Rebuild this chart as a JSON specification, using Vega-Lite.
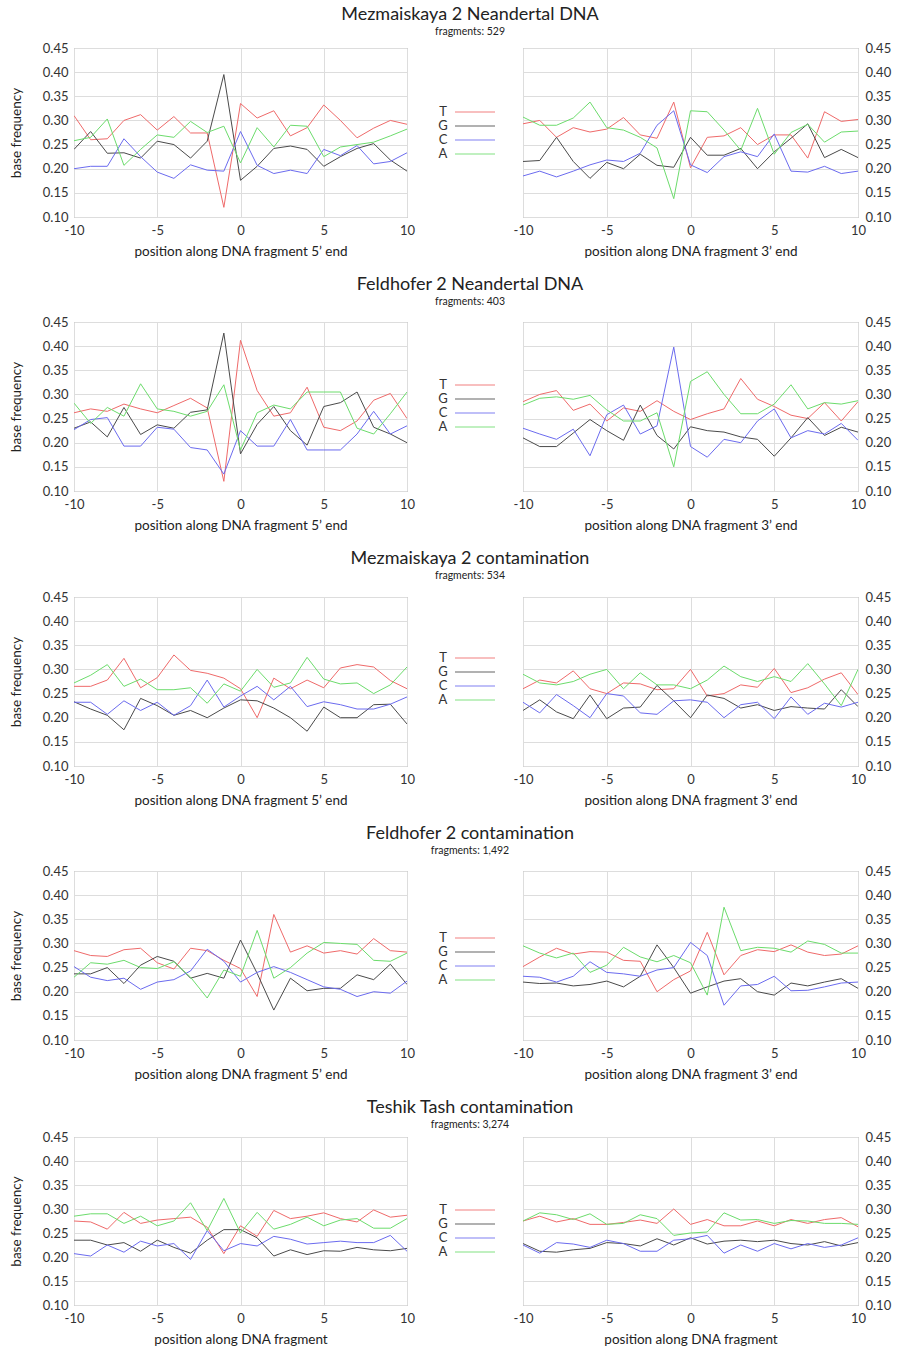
{
"$schema": "https://vega.github.io/schema/vega-lite/v6.json",
"padding": {"left": 8, "top": 6, "right": 0, "bottom": 0},
"background": "white",
"datasets": {
"legend": [{"base":"T"},{"base":"G"},{"base":"C"},{"base":"A"}],
"p1L": [
{"pos":-10,"base":"T","freq":0.31},{"pos":-9,"base":"T","freq":0.26},{"pos":-8,"base":"T","freq":0.262},{"pos":-7,"base":"T","freq":0.30},{"pos":-6,"base":"T","freq":0.312},{"pos":-5,"base":"T","freq":0.28},{"pos":-4,"base":"T","freq":0.308},{"pos":-3,"base":"T","freq":0.274},{"pos":-2,"base":"T","freq":0.274},{"pos":-1,"base":"T","freq":0.12},{"pos":0,"base":"T","freq":0.335},{"pos":1,"base":"T","freq":0.305},{"pos":2,"base":"T","freq":0.32},{"pos":3,"base":"T","freq":0.268},{"pos":4,"base":"T","freq":0.285},{"pos":5,"base":"T","freq":0.332},{"pos":6,"base":"T","freq":0.30},{"pos":7,"base":"T","freq":0.264},{"pos":8,"base":"T","freq":0.284},{"pos":9,"base":"T","freq":0.30},{"pos":10,"base":"T","freq":0.292},
{"pos":-10,"base":"G","freq":0.24},{"pos":-9,"base":"G","freq":0.277},{"pos":-8,"base":"G","freq":0.232},{"pos":-7,"base":"G","freq":0.233},{"pos":-6,"base":"G","freq":0.222},{"pos":-5,"base":"G","freq":0.257},{"pos":-4,"base":"G","freq":0.25},{"pos":-3,"base":"G","freq":0.222},{"pos":-2,"base":"G","freq":0.257},{"pos":-1,"base":"G","freq":0.395},{"pos":0,"base":"G","freq":0.176},{"pos":1,"base":"G","freq":0.205},{"pos":2,"base":"G","freq":0.242},{"pos":3,"base":"G","freq":0.247},{"pos":4,"base":"G","freq":0.24},{"pos":5,"base":"G","freq":0.205},{"pos":6,"base":"G","freq":0.225},{"pos":7,"base":"G","freq":0.242},{"pos":8,"base":"G","freq":0.252},{"pos":9,"base":"G","freq":0.218},{"pos":10,"base":"G","freq":0.195},
{"pos":-10,"base":"C","freq":0.2},{"pos":-9,"base":"C","freq":0.205},{"pos":-8,"base":"C","freq":0.205},{"pos":-7,"base":"C","freq":0.262},{"pos":-6,"base":"C","freq":0.225},{"pos":-5,"base":"C","freq":0.193},{"pos":-4,"base":"C","freq":0.18},{"pos":-3,"base":"C","freq":0.208},{"pos":-2,"base":"C","freq":0.197},{"pos":-1,"base":"C","freq":0.195},{"pos":0,"base":"C","freq":0.277},{"pos":1,"base":"C","freq":0.207},{"pos":2,"base":"C","freq":0.19},{"pos":3,"base":"C","freq":0.197},{"pos":4,"base":"C","freq":0.19},{"pos":5,"base":"C","freq":0.24},{"pos":6,"base":"C","freq":0.227},{"pos":7,"base":"C","freq":0.248},{"pos":8,"base":"C","freq":0.21},{"pos":9,"base":"C","freq":0.215},{"pos":10,"base":"C","freq":0.233},
{"pos":-10,"base":"A","freq":0.258},{"pos":-9,"base":"A","freq":0.265},{"pos":-8,"base":"A","freq":0.303},{"pos":-7,"base":"A","freq":0.207},{"pos":-6,"base":"A","freq":0.24},{"pos":-5,"base":"A","freq":0.27},{"pos":-4,"base":"A","freq":0.265},{"pos":-3,"base":"A","freq":0.298},{"pos":-2,"base":"A","freq":0.275},{"pos":-1,"base":"A","freq":0.288},{"pos":0,"base":"A","freq":0.212},{"pos":1,"base":"A","freq":0.285},{"pos":2,"base":"A","freq":0.245},{"pos":3,"base":"A","freq":0.29},{"pos":4,"base":"A","freq":0.288},{"pos":5,"base":"A","freq":0.225},{"pos":6,"base":"A","freq":0.245},{"pos":7,"base":"A","freq":0.25},{"pos":8,"base":"A","freq":0.255},{"pos":9,"base":"A","freq":0.268},{"pos":10,"base":"A","freq":0.282}
],
"p1R": [
{"pos":-10,"base":"T","freq":0.293},{"pos":-9,"base":"T","freq":0.30},{"pos":-8,"base":"T","freq":0.265},{"pos":-7,"base":"T","freq":0.285},{"pos":-6,"base":"T","freq":0.276},{"pos":-5,"base":"T","freq":0.282},{"pos":-4,"base":"T","freq":0.306},{"pos":-3,"base":"T","freq":0.27},{"pos":-2,"base":"T","freq":0.263},{"pos":-1,"base":"T","freq":0.338},{"pos":0,"base":"T","freq":0.202},{"pos":1,"base":"T","freq":0.265},{"pos":2,"base":"T","freq":0.268},{"pos":3,"base":"T","freq":0.285},{"pos":4,"base":"T","freq":0.25},{"pos":5,"base":"T","freq":0.27},{"pos":6,"base":"T","freq":0.27},{"pos":7,"base":"T","freq":0.222},{"pos":8,"base":"T","freq":0.318},{"pos":9,"base":"T","freq":0.298},{"pos":10,"base":"T","freq":0.302},
{"pos":-10,"base":"G","freq":0.215},{"pos":-9,"base":"G","freq":0.217},{"pos":-8,"base":"G","freq":0.265},{"pos":-7,"base":"G","freq":0.215},{"pos":-6,"base":"G","freq":0.18},{"pos":-5,"base":"G","freq":0.213},{"pos":-4,"base":"G","freq":0.2},{"pos":-3,"base":"G","freq":0.23},{"pos":-2,"base":"G","freq":0.207},{"pos":-1,"base":"G","freq":0.203},{"pos":0,"base":"G","freq":0.265},{"pos":1,"base":"G","freq":0.228},{"pos":2,"base":"G","freq":0.228},{"pos":3,"base":"G","freq":0.242},{"pos":4,"base":"G","freq":0.2},{"pos":5,"base":"G","freq":0.235},{"pos":6,"base":"G","freq":0.263},{"pos":7,"base":"G","freq":0.293},{"pos":8,"base":"G","freq":0.223},{"pos":9,"base":"G","freq":0.24},{"pos":10,"base":"G","freq":0.223},
{"pos":-10,"base":"C","freq":0.185},{"pos":-9,"base":"C","freq":0.195},{"pos":-8,"base":"C","freq":0.183},{"pos":-7,"base":"C","freq":0.195},{"pos":-6,"base":"C","freq":0.208},{"pos":-5,"base":"C","freq":0.218},{"pos":-4,"base":"C","freq":0.215},{"pos":-3,"base":"C","freq":0.232},{"pos":-2,"base":"C","freq":0.29},{"pos":-1,"base":"C","freq":0.32},{"pos":0,"base":"C","freq":0.208},{"pos":1,"base":"C","freq":0.192},{"pos":2,"base":"C","freq":0.225},{"pos":3,"base":"C","freq":0.235},{"pos":4,"base":"C","freq":0.225},{"pos":5,"base":"C","freq":0.272},{"pos":6,"base":"C","freq":0.195},{"pos":7,"base":"C","freq":0.193},{"pos":8,"base":"C","freq":0.205},{"pos":9,"base":"C","freq":0.19},{"pos":10,"base":"C","freq":0.195},
{"pos":-10,"base":"A","freq":0.307},{"pos":-9,"base":"A","freq":0.29},{"pos":-8,"base":"A","freq":0.29},{"pos":-7,"base":"A","freq":0.305},{"pos":-6,"base":"A","freq":0.338},{"pos":-5,"base":"A","freq":0.285},{"pos":-4,"base":"A","freq":0.28},{"pos":-3,"base":"A","freq":0.265},{"pos":-2,"base":"A","freq":0.243},{"pos":-1,"base":"A","freq":0.138},{"pos":0,"base":"A","freq":0.32},{"pos":1,"base":"A","freq":0.318},{"pos":2,"base":"A","freq":0.28},{"pos":3,"base":"A","freq":0.238},{"pos":4,"base":"A","freq":0.325},{"pos":5,"base":"A","freq":0.23},{"pos":6,"base":"A","freq":0.275},{"pos":7,"base":"A","freq":0.292},{"pos":8,"base":"A","freq":0.255},{"pos":9,"base":"A","freq":0.276},{"pos":10,"base":"A","freq":0.278}
],
"p2L": [
{"pos":-10,"base":"T","freq":0.262},{"pos":-9,"base":"T","freq":0.27},{"pos":-8,"base":"T","freq":0.265},{"pos":-7,"base":"T","freq":0.28},{"pos":-6,"base":"T","freq":0.27},{"pos":-5,"base":"T","freq":0.262},{"pos":-4,"base":"T","freq":0.277},{"pos":-3,"base":"T","freq":0.292},{"pos":-2,"base":"T","freq":0.272},{"pos":-1,"base":"T","freq":0.12},{"pos":0,"base":"T","freq":0.412},{"pos":1,"base":"T","freq":0.308},{"pos":2,"base":"T","freq":0.255},{"pos":3,"base":"T","freq":0.262},{"pos":4,"base":"T","freq":0.315},{"pos":5,"base":"T","freq":0.232},{"pos":6,"base":"T","freq":0.225},{"pos":7,"base":"T","freq":0.245},{"pos":8,"base":"T","freq":0.288},{"pos":9,"base":"T","freq":0.302},{"pos":10,"base":"T","freq":0.25},
{"pos":-10,"base":"G","freq":0.23},{"pos":-9,"base":"G","freq":0.243},{"pos":-8,"base":"G","freq":0.212},{"pos":-7,"base":"G","freq":0.273},{"pos":-6,"base":"G","freq":0.217},{"pos":-5,"base":"G","freq":0.237},{"pos":-4,"base":"G","freq":0.23},{"pos":-3,"base":"G","freq":0.263},{"pos":-2,"base":"G","freq":0.268},{"pos":-1,"base":"G","freq":0.427},{"pos":0,"base":"G","freq":0.177},{"pos":1,"base":"G","freq":0.238},{"pos":2,"base":"G","freq":0.275},{"pos":3,"base":"G","freq":0.225},{"pos":4,"base":"G","freq":0.195},{"pos":5,"base":"G","freq":0.275},{"pos":6,"base":"G","freq":0.283},{"pos":7,"base":"G","freq":0.305},{"pos":8,"base":"G","freq":0.232},{"pos":9,"base":"G","freq":0.218},{"pos":10,"base":"G","freq":0.2},
{"pos":-10,"base":"C","freq":0.227},{"pos":-9,"base":"C","freq":0.248},{"pos":-8,"base":"C","freq":0.252},{"pos":-7,"base":"C","freq":0.193},{"pos":-6,"base":"C","freq":0.193},{"pos":-5,"base":"C","freq":0.232},{"pos":-4,"base":"C","freq":0.228},{"pos":-3,"base":"C","freq":0.19},{"pos":-2,"base":"C","freq":0.185},{"pos":-1,"base":"C","freq":0.135},{"pos":0,"base":"C","freq":0.225},{"pos":1,"base":"C","freq":0.193},{"pos":2,"base":"C","freq":0.193},{"pos":3,"base":"C","freq":0.248},{"pos":4,"base":"C","freq":0.185},{"pos":5,"base":"C","freq":0.185},{"pos":6,"base":"C","freq":0.185},{"pos":7,"base":"C","freq":0.218},{"pos":8,"base":"C","freq":0.265},{"pos":9,"base":"C","freq":0.218},{"pos":10,"base":"C","freq":0.235},
{"pos":-10,"base":"A","freq":0.282},{"pos":-9,"base":"A","freq":0.24},{"pos":-8,"base":"A","freq":0.273},{"pos":-7,"base":"A","freq":0.255},{"pos":-6,"base":"A","freq":0.322},{"pos":-5,"base":"A","freq":0.27},{"pos":-4,"base":"A","freq":0.265},{"pos":-3,"base":"A","freq":0.255},{"pos":-2,"base":"A","freq":0.265},{"pos":-1,"base":"A","freq":0.32},{"pos":0,"base":"A","freq":0.185},{"pos":1,"base":"A","freq":0.262},{"pos":2,"base":"A","freq":0.278},{"pos":3,"base":"A","freq":0.27},{"pos":4,"base":"A","freq":0.305},{"pos":5,"base":"A","freq":0.305},{"pos":6,"base":"A","freq":0.305},{"pos":7,"base":"A","freq":0.23},{"pos":8,"base":"A","freq":0.218},{"pos":9,"base":"A","freq":0.26},{"pos":10,"base":"A","freq":0.305}
],
"p2R": [
{"pos":-10,"base":"T","freq":0.285},{"pos":-9,"base":"T","freq":0.3},{"pos":-8,"base":"T","freq":0.308},{"pos":-7,"base":"T","freq":0.267},{"pos":-6,"base":"T","freq":0.28},{"pos":-5,"base":"T","freq":0.245},{"pos":-4,"base":"T","freq":0.272},{"pos":-3,"base":"T","freq":0.265},{"pos":-2,"base":"T","freq":0.287},{"pos":-1,"base":"T","freq":0.265},{"pos":0,"base":"T","freq":0.248},{"pos":1,"base":"T","freq":0.26},{"pos":2,"base":"T","freq":0.27},{"pos":3,"base":"T","freq":0.333},{"pos":4,"base":"T","freq":0.29},{"pos":5,"base":"T","freq":0.275},{"pos":6,"base":"T","freq":0.257},{"pos":7,"base":"T","freq":0.25},{"pos":8,"base":"T","freq":0.283},{"pos":9,"base":"T","freq":0.245},{"pos":10,"base":"T","freq":0.285},
{"pos":-10,"base":"G","freq":0.21},{"pos":-9,"base":"G","freq":0.192},{"pos":-8,"base":"G","freq":0.192},{"pos":-7,"base":"G","freq":0.22},{"pos":-6,"base":"G","freq":0.248},{"pos":-5,"base":"G","freq":0.225},{"pos":-4,"base":"G","freq":0.205},{"pos":-3,"base":"G","freq":0.278},{"pos":-2,"base":"G","freq":0.215},{"pos":-1,"base":"G","freq":0.187},{"pos":0,"base":"G","freq":0.233},{"pos":1,"base":"G","freq":0.225},{"pos":2,"base":"G","freq":0.222},{"pos":3,"base":"G","freq":0.212},{"pos":4,"base":"G","freq":0.207},{"pos":5,"base":"G","freq":0.172},{"pos":6,"base":"G","freq":0.21},{"pos":7,"base":"G","freq":0.252},{"pos":8,"base":"G","freq":0.215},{"pos":9,"base":"G","freq":0.232},{"pos":10,"base":"G","freq":0.222},
{"pos":-10,"base":"C","freq":0.23},{"pos":-9,"base":"C","freq":0.218},{"pos":-8,"base":"C","freq":0.207},{"pos":-7,"base":"C","freq":0.228},{"pos":-6,"base":"C","freq":0.173},{"pos":-5,"base":"C","freq":0.258},{"pos":-4,"base":"C","freq":0.278},{"pos":-3,"base":"C","freq":0.218},{"pos":-2,"base":"C","freq":0.235},{"pos":-1,"base":"C","freq":0.398},{"pos":0,"base":"C","freq":0.192},{"pos":1,"base":"C","freq":0.17},{"pos":2,"base":"C","freq":0.207},{"pos":3,"base":"C","freq":0.2},{"pos":4,"base":"C","freq":0.245},{"pos":5,"base":"C","freq":0.27},{"pos":6,"base":"C","freq":0.21},{"pos":7,"base":"C","freq":0.225},{"pos":8,"base":"C","freq":0.218},{"pos":9,"base":"C","freq":0.24},{"pos":10,"base":"C","freq":0.205},
{"pos":-10,"base":"A","freq":0.278},{"pos":-9,"base":"A","freq":0.292},{"pos":-8,"base":"A","freq":0.295},{"pos":-7,"base":"A","freq":0.29},{"pos":-6,"base":"A","freq":0.298},{"pos":-5,"base":"A","freq":0.268},{"pos":-4,"base":"A","freq":0.245},{"pos":-3,"base":"A","freq":0.245},{"pos":-2,"base":"A","freq":0.262},{"pos":-1,"base":"A","freq":0.15},{"pos":0,"base":"A","freq":0.327},{"pos":1,"base":"A","freq":0.347},{"pos":2,"base":"A","freq":0.3},{"pos":3,"base":"A","freq":0.26},{"pos":4,"base":"A","freq":0.26},{"pos":5,"base":"A","freq":0.28},{"pos":6,"base":"A","freq":0.32},{"pos":7,"base":"A","freq":0.27},{"pos":8,"base":"A","freq":0.283},{"pos":9,"base":"A","freq":0.28},{"pos":10,"base":"A","freq":0.287}
],
"p3L": [
{"pos":-10,"base":"T","freq":0.265},{"pos":-9,"base":"T","freq":0.265},{"pos":-8,"base":"T","freq":0.278},{"pos":-7,"base":"T","freq":0.323},{"pos":-6,"base":"T","freq":0.262},{"pos":-5,"base":"T","freq":0.283},{"pos":-4,"base":"T","freq":0.33},{"pos":-3,"base":"T","freq":0.298},{"pos":-2,"base":"T","freq":0.292},{"pos":-1,"base":"T","freq":0.282},{"pos":0,"base":"T","freq":0.26},{"pos":1,"base":"T","freq":0.2},{"pos":2,"base":"T","freq":0.282},{"pos":3,"base":"T","freq":0.26},{"pos":4,"base":"T","freq":0.278},{"pos":5,"base":"T","freq":0.262},{"pos":6,"base":"T","freq":0.303},{"pos":7,"base":"T","freq":0.31},{"pos":8,"base":"T","freq":0.305},{"pos":9,"base":"T","freq":0.277},{"pos":10,"base":"T","freq":0.26},
{"pos":-10,"base":"G","freq":0.233},{"pos":-9,"base":"G","freq":0.218},{"pos":-8,"base":"G","freq":0.205},{"pos":-7,"base":"G","freq":0.175},{"pos":-6,"base":"G","freq":0.24},{"pos":-5,"base":"G","freq":0.225},{"pos":-4,"base":"G","freq":0.205},{"pos":-3,"base":"G","freq":0.215},{"pos":-2,"base":"G","freq":0.2},{"pos":-1,"base":"G","freq":0.22},{"pos":0,"base":"G","freq":0.237},{"pos":1,"base":"G","freq":0.235},{"pos":2,"base":"G","freq":0.22},{"pos":3,"base":"G","freq":0.2},{"pos":4,"base":"G","freq":0.172},{"pos":5,"base":"G","freq":0.222},{"pos":6,"base":"G","freq":0.2},{"pos":7,"base":"G","freq":0.2},{"pos":8,"base":"G","freq":0.227},{"pos":9,"base":"G","freq":0.228},{"pos":10,"base":"G","freq":0.187},
{"pos":-10,"base":"C","freq":0.232},{"pos":-9,"base":"C","freq":0.232},{"pos":-8,"base":"C","freq":0.207},{"pos":-7,"base":"C","freq":0.235},{"pos":-6,"base":"C","freq":0.215},{"pos":-5,"base":"C","freq":0.232},{"pos":-4,"base":"C","freq":0.205},{"pos":-3,"base":"C","freq":0.225},{"pos":-2,"base":"C","freq":0.278},{"pos":-1,"base":"C","freq":0.222},{"pos":0,"base":"C","freq":0.245},{"pos":1,"base":"C","freq":0.265},{"pos":2,"base":"C","freq":0.237},{"pos":3,"base":"C","freq":0.265},{"pos":4,"base":"C","freq":0.223},{"pos":5,"base":"C","freq":0.233},{"pos":6,"base":"C","freq":0.227},{"pos":7,"base":"C","freq":0.218},{"pos":8,"base":"C","freq":0.218},{"pos":9,"base":"C","freq":0.228},{"pos":10,"base":"C","freq":0.243},
{"pos":-10,"base":"A","freq":0.272},{"pos":-9,"base":"A","freq":0.288},{"pos":-8,"base":"A","freq":0.31},{"pos":-7,"base":"A","freq":0.265},{"pos":-6,"base":"A","freq":0.28},{"pos":-5,"base":"A","freq":0.258},{"pos":-4,"base":"A","freq":0.258},{"pos":-3,"base":"A","freq":0.262},{"pos":-2,"base":"A","freq":0.23},{"pos":-1,"base":"A","freq":0.27},{"pos":0,"base":"A","freq":0.255},{"pos":1,"base":"A","freq":0.3},{"pos":2,"base":"A","freq":0.263},{"pos":3,"base":"A","freq":0.272},{"pos":4,"base":"A","freq":0.325},{"pos":5,"base":"A","freq":0.28},{"pos":6,"base":"A","freq":0.27},{"pos":7,"base":"A","freq":0.272},{"pos":8,"base":"A","freq":0.25},{"pos":9,"base":"A","freq":0.268},{"pos":10,"base":"A","freq":0.305}
],
"p3R": [
{"pos":-10,"base":"T","freq":0.26},{"pos":-9,"base":"T","freq":0.278},{"pos":-8,"base":"T","freq":0.272},{"pos":-7,"base":"T","freq":0.297},{"pos":-6,"base":"T","freq":0.26},{"pos":-5,"base":"T","freq":0.25},{"pos":-4,"base":"T","freq":0.272},{"pos":-3,"base":"T","freq":0.27},{"pos":-2,"base":"T","freq":0.258},{"pos":-1,"base":"T","freq":0.26},{"pos":0,"base":"T","freq":0.3},{"pos":1,"base":"T","freq":0.245},{"pos":2,"base":"T","freq":0.25},{"pos":3,"base":"T","freq":0.268},{"pos":4,"base":"T","freq":0.263},{"pos":5,"base":"T","freq":0.302},{"pos":6,"base":"T","freq":0.252},{"pos":7,"base":"T","freq":0.262},{"pos":8,"base":"T","freq":0.28},{"pos":9,"base":"T","freq":0.293},{"pos":10,"base":"T","freq":0.248},
{"pos":-10,"base":"G","freq":0.215},{"pos":-9,"base":"G","freq":0.237},{"pos":-8,"base":"G","freq":0.212},{"pos":-7,"base":"G","freq":0.198},{"pos":-6,"base":"G","freq":0.247},{"pos":-5,"base":"G","freq":0.198},{"pos":-4,"base":"G","freq":0.22},{"pos":-3,"base":"G","freq":0.222},{"pos":-2,"base":"G","freq":0.267},{"pos":-1,"base":"G","freq":0.235},{"pos":0,"base":"G","freq":0.2},{"pos":1,"base":"G","freq":0.247},{"pos":2,"base":"G","freq":0.24},{"pos":3,"base":"G","freq":0.22},{"pos":4,"base":"G","freq":0.227},{"pos":5,"base":"G","freq":0.215},{"pos":6,"base":"G","freq":0.223},{"pos":7,"base":"G","freq":0.22},{"pos":8,"base":"G","freq":0.218},{"pos":9,"base":"G","freq":0.258},{"pos":10,"base":"G","freq":0.223},
{"pos":-10,"base":"C","freq":0.232},{"pos":-9,"base":"C","freq":0.21},{"pos":-8,"base":"C","freq":0.248},{"pos":-7,"base":"C","freq":0.225},{"pos":-6,"base":"C","freq":0.2},{"pos":-5,"base":"C","freq":0.25},{"pos":-4,"base":"C","freq":0.245},{"pos":-3,"base":"C","freq":0.21},{"pos":-2,"base":"C","freq":0.207},{"pos":-1,"base":"C","freq":0.235},{"pos":0,"base":"C","freq":0.237},{"pos":1,"base":"C","freq":0.232},{"pos":2,"base":"C","freq":0.2},{"pos":3,"base":"C","freq":0.227},{"pos":4,"base":"C","freq":0.232},{"pos":5,"base":"C","freq":0.198},{"pos":6,"base":"C","freq":0.243},{"pos":7,"base":"C","freq":0.207},{"pos":8,"base":"C","freq":0.23},{"pos":9,"base":"C","freq":0.222},{"pos":10,"base":"C","freq":0.232},
{"pos":-10,"base":"A","freq":0.29},{"pos":-9,"base":"A","freq":0.272},{"pos":-8,"base":"A","freq":0.268},{"pos":-7,"base":"A","freq":0.275},{"pos":-6,"base":"A","freq":0.29},{"pos":-5,"base":"A","freq":0.3},{"pos":-4,"base":"A","freq":0.26},{"pos":-3,"base":"A","freq":0.293},{"pos":-2,"base":"A","freq":0.268},{"pos":-1,"base":"A","freq":0.268},{"pos":0,"base":"A","freq":0.26},{"pos":1,"base":"A","freq":0.278},{"pos":2,"base":"A","freq":0.307},{"pos":3,"base":"A","freq":0.285},{"pos":4,"base":"A","freq":0.275},{"pos":5,"base":"A","freq":0.285},{"pos":6,"base":"A","freq":0.275},{"pos":7,"base":"A","freq":0.312},{"pos":8,"base":"A","freq":0.27},{"pos":9,"base":"A","freq":0.225},{"pos":10,"base":"A","freq":0.3}
],
"p4L": [
{"pos":-10,"base":"T","freq":0.285},{"pos":-9,"base":"T","freq":0.275},{"pos":-8,"base":"T","freq":0.273},{"pos":-7,"base":"T","freq":0.287},{"pos":-6,"base":"T","freq":0.29},{"pos":-5,"base":"T","freq":0.26},{"pos":-4,"base":"T","freq":0.247},{"pos":-3,"base":"T","freq":0.29},{"pos":-2,"base":"T","freq":0.285},{"pos":-1,"base":"T","freq":0.265},{"pos":0,"base":"T","freq":0.248},{"pos":1,"base":"T","freq":0.19},{"pos":2,"base":"T","freq":0.36},{"pos":3,"base":"T","freq":0.282},{"pos":4,"base":"T","freq":0.295},{"pos":5,"base":"T","freq":0.28},{"pos":6,"base":"T","freq":0.285},{"pos":7,"base":"T","freq":0.278},{"pos":8,"base":"T","freq":0.31},{"pos":9,"base":"T","freq":0.285},{"pos":10,"base":"T","freq":0.282},
{"pos":-10,"base":"G","freq":0.237},{"pos":-9,"base":"G","freq":0.237},{"pos":-8,"base":"G","freq":0.25},{"pos":-7,"base":"G","freq":0.217},{"pos":-6,"base":"G","freq":0.255},{"pos":-5,"base":"G","freq":0.273},{"pos":-4,"base":"G","freq":0.263},{"pos":-3,"base":"G","freq":0.228},{"pos":-2,"base":"G","freq":0.238},{"pos":-1,"base":"G","freq":0.228},{"pos":0,"base":"G","freq":0.307},{"pos":1,"base":"G","freq":0.238},{"pos":2,"base":"G","freq":0.162},{"pos":3,"base":"G","freq":0.228},{"pos":4,"base":"G","freq":0.202},{"pos":5,"base":"G","freq":0.207},{"pos":6,"base":"G","freq":0.207},{"pos":7,"base":"G","freq":0.235},{"pos":8,"base":"G","freq":0.225},{"pos":9,"base":"G","freq":0.257},{"pos":10,"base":"G","freq":0.215},
{"pos":-10,"base":"C","freq":0.252},{"pos":-9,"base":"C","freq":0.23},{"pos":-8,"base":"C","freq":0.223},{"pos":-7,"base":"C","freq":0.228},{"pos":-6,"base":"C","freq":0.205},{"pos":-5,"base":"C","freq":0.22},{"pos":-4,"base":"C","freq":0.225},{"pos":-3,"base":"C","freq":0.243},{"pos":-2,"base":"C","freq":0.288},{"pos":-1,"base":"C","freq":0.263},{"pos":0,"base":"C","freq":0.22},{"pos":1,"base":"C","freq":0.24},{"pos":2,"base":"C","freq":0.252},{"pos":3,"base":"C","freq":0.24},{"pos":4,"base":"C","freq":0.225},{"pos":5,"base":"C","freq":0.21},{"pos":6,"base":"C","freq":0.205},{"pos":7,"base":"C","freq":0.19},{"pos":8,"base":"C","freq":0.2},{"pos":9,"base":"C","freq":0.197},{"pos":10,"base":"C","freq":0.222},
{"pos":-10,"base":"A","freq":0.23},{"pos":-9,"base":"A","freq":0.26},{"pos":-8,"base":"A","freq":0.257},{"pos":-7,"base":"A","freq":0.265},{"pos":-6,"base":"A","freq":0.25},{"pos":-5,"base":"A","freq":0.248},{"pos":-4,"base":"A","freq":0.262},{"pos":-3,"base":"A","freq":0.23},{"pos":-2,"base":"A","freq":0.187},{"pos":-1,"base":"A","freq":0.245},{"pos":0,"base":"A","freq":0.232},{"pos":1,"base":"A","freq":0.327},{"pos":2,"base":"A","freq":0.228},{"pos":3,"base":"A","freq":0.25},{"pos":4,"base":"A","freq":0.28},{"pos":5,"base":"A","freq":0.302},{"pos":6,"base":"A","freq":0.3},{"pos":7,"base":"A","freq":0.298},{"pos":8,"base":"A","freq":0.265},{"pos":9,"base":"A","freq":0.263},{"pos":10,"base":"A","freq":0.28}
],
"p4R": [
{"pos":-10,"base":"T","freq":0.252},{"pos":-9,"base":"T","freq":0.272},{"pos":-8,"base":"T","freq":0.29},{"pos":-7,"base":"T","freq":0.278},{"pos":-6,"base":"T","freq":0.283},{"pos":-5,"base":"T","freq":0.282},{"pos":-4,"base":"T","freq":0.265},{"pos":-3,"base":"T","freq":0.263},{"pos":-2,"base":"T","freq":0.2},{"pos":-1,"base":"T","freq":0.225},{"pos":0,"base":"T","freq":0.243},{"pos":1,"base":"T","freq":0.323},{"pos":2,"base":"T","freq":0.235},{"pos":3,"base":"T","freq":0.275},{"pos":4,"base":"T","freq":0.287},{"pos":5,"base":"T","freq":0.283},{"pos":6,"base":"T","freq":0.297},{"pos":7,"base":"T","freq":0.282},{"pos":8,"base":"T","freq":0.275},{"pos":9,"base":"T","freq":0.278},{"pos":10,"base":"T","freq":0.295},
{"pos":-10,"base":"G","freq":0.22},{"pos":-9,"base":"G","freq":0.217},{"pos":-8,"base":"G","freq":0.218},{"pos":-7,"base":"G","freq":0.212},{"pos":-6,"base":"G","freq":0.215},{"pos":-5,"base":"G","freq":0.222},{"pos":-4,"base":"G","freq":0.21},{"pos":-3,"base":"G","freq":0.232},{"pos":-2,"base":"G","freq":0.297},{"pos":-1,"base":"G","freq":0.25},{"pos":0,"base":"G","freq":0.197},{"pos":1,"base":"G","freq":0.21},{"pos":2,"base":"G","freq":0.222},{"pos":3,"base":"G","freq":0.227},{"pos":4,"base":"G","freq":0.2},{"pos":5,"base":"G","freq":0.193},{"pos":6,"base":"G","freq":0.218},{"pos":7,"base":"G","freq":0.212},{"pos":8,"base":"G","freq":0.22},{"pos":9,"base":"G","freq":0.227},{"pos":10,"base":"G","freq":0.207},
{"pos":-10,"base":"C","freq":0.232},{"pos":-9,"base":"C","freq":0.23},{"pos":-8,"base":"C","freq":0.22},{"pos":-7,"base":"C","freq":0.232},{"pos":-6,"base":"C","freq":0.262},{"pos":-5,"base":"C","freq":0.24},{"pos":-4,"base":"C","freq":0.237},{"pos":-3,"base":"C","freq":0.232},{"pos":-2,"base":"C","freq":0.245},{"pos":-1,"base":"C","freq":0.25},{"pos":0,"base":"C","freq":0.302},{"pos":1,"base":"C","freq":0.275},{"pos":2,"base":"C","freq":0.172},{"pos":3,"base":"C","freq":0.212},{"pos":4,"base":"C","freq":0.215},{"pos":5,"base":"C","freq":0.232},{"pos":6,"base":"C","freq":0.202},{"pos":7,"base":"C","freq":0.203},{"pos":8,"base":"C","freq":0.21},{"pos":9,"base":"C","freq":0.218},{"pos":10,"base":"C","freq":0.22},
{"pos":-10,"base":"A","freq":0.295},{"pos":-9,"base":"A","freq":0.28},{"pos":-8,"base":"A","freq":0.27},{"pos":-7,"base":"A","freq":0.28},{"pos":-6,"base":"A","freq":0.24},{"pos":-5,"base":"A","freq":0.255},{"pos":-4,"base":"A","freq":0.292},{"pos":-3,"base":"A","freq":0.272},{"pos":-2,"base":"A","freq":0.262},{"pos":-1,"base":"A","freq":0.275},{"pos":0,"base":"A","freq":0.26},{"pos":1,"base":"A","freq":0.193},{"pos":2,"base":"A","freq":0.375},{"pos":3,"base":"A","freq":0.285},{"pos":4,"base":"A","freq":0.292},{"pos":5,"base":"A","freq":0.29},{"pos":6,"base":"A","freq":0.282},{"pos":7,"base":"A","freq":0.305},{"pos":8,"base":"A","freq":0.298},{"pos":9,"base":"A","freq":0.28},{"pos":10,"base":"A","freq":0.28}
],
"p5L": [
{"pos":-10,"base":"T","freq":0.275},{"pos":-9,"base":"T","freq":0.273},{"pos":-8,"base":"T","freq":0.258},{"pos":-7,"base":"T","freq":0.293},{"pos":-6,"base":"T","freq":0.27},{"pos":-5,"base":"T","freq":0.277},{"pos":-4,"base":"T","freq":0.28},{"pos":-3,"base":"T","freq":0.283},{"pos":-2,"base":"T","freq":0.262},{"pos":-1,"base":"T","freq":0.207},{"pos":0,"base":"T","freq":0.265},{"pos":1,"base":"T","freq":0.243},{"pos":2,"base":"T","freq":0.297},{"pos":3,"base":"T","freq":0.28},{"pos":4,"base":"T","freq":0.285},{"pos":5,"base":"T","freq":0.292},{"pos":6,"base":"T","freq":0.28},{"pos":7,"base":"T","freq":0.273},{"pos":8,"base":"T","freq":0.298},{"pos":9,"base":"T","freq":0.283},{"pos":10,"base":"T","freq":0.287},
{"pos":-10,"base":"G","freq":0.235},{"pos":-9,"base":"G","freq":0.235},{"pos":-8,"base":"G","freq":0.225},{"pos":-7,"base":"G","freq":0.23},{"pos":-6,"base":"G","freq":0.212},{"pos":-5,"base":"G","freq":0.235},{"pos":-4,"base":"G","freq":0.22},{"pos":-3,"base":"G","freq":0.208},{"pos":-2,"base":"G","freq":0.235},{"pos":-1,"base":"G","freq":0.257},{"pos":0,"base":"G","freq":0.257},{"pos":1,"base":"G","freq":0.24},{"pos":2,"base":"G","freq":0.202},{"pos":3,"base":"G","freq":0.215},{"pos":4,"base":"G","freq":0.205},{"pos":5,"base":"G","freq":0.213},{"pos":6,"base":"G","freq":0.212},{"pos":7,"base":"G","freq":0.22},{"pos":8,"base":"G","freq":0.215},{"pos":9,"base":"G","freq":0.213},{"pos":10,"base":"G","freq":0.218},
{"pos":-10,"base":"C","freq":0.207},{"pos":-9,"base":"C","freq":0.202},{"pos":-8,"base":"C","freq":0.225},{"pos":-7,"base":"C","freq":0.21},{"pos":-6,"base":"C","freq":0.233},{"pos":-5,"base":"C","freq":0.223},{"pos":-4,"base":"C","freq":0.228},{"pos":-3,"base":"C","freq":0.195},{"pos":-2,"base":"C","freq":0.255},{"pos":-1,"base":"C","freq":0.213},{"pos":0,"base":"C","freq":0.228},{"pos":1,"base":"C","freq":0.223},{"pos":2,"base":"C","freq":0.243},{"pos":3,"base":"C","freq":0.237},{"pos":4,"base":"C","freq":0.227},{"pos":5,"base":"C","freq":0.23},{"pos":6,"base":"C","freq":0.233},{"pos":7,"base":"C","freq":0.23},{"pos":8,"base":"C","freq":0.23},{"pos":9,"base":"C","freq":0.245},{"pos":10,"base":"C","freq":0.212},
{"pos":-10,"base":"A","freq":0.285},{"pos":-9,"base":"A","freq":0.29},{"pos":-8,"base":"A","freq":0.29},{"pos":-7,"base":"A","freq":0.27},{"pos":-6,"base":"A","freq":0.285},{"pos":-5,"base":"A","freq":0.265},{"pos":-4,"base":"A","freq":0.275},{"pos":-3,"base":"A","freq":0.313},{"pos":-2,"base":"A","freq":0.255},{"pos":-1,"base":"A","freq":0.322},{"pos":0,"base":"A","freq":0.25},{"pos":1,"base":"A","freq":0.293},{"pos":2,"base":"A","freq":0.258},{"pos":3,"base":"A","freq":0.268},{"pos":4,"base":"A","freq":0.283},{"pos":5,"base":"A","freq":0.265},{"pos":6,"base":"A","freq":0.277},{"pos":7,"base":"A","freq":0.28},{"pos":8,"base":"A","freq":0.26},{"pos":9,"base":"A","freq":0.26},{"pos":10,"base":"A","freq":0.28}
],
"p5R": [
{"pos":-10,"base":"T","freq":0.275},{"pos":-9,"base":"T","freq":0.285},{"pos":-8,"base":"T","freq":0.273},{"pos":-7,"base":"T","freq":0.28},{"pos":-6,"base":"T","freq":0.268},{"pos":-5,"base":"T","freq":0.268},{"pos":-4,"base":"T","freq":0.272},{"pos":-3,"base":"T","freq":0.277},{"pos":-2,"base":"T","freq":0.27},{"pos":-1,"base":"T","freq":0.3},{"pos":0,"base":"T","freq":0.268},{"pos":1,"base":"T","freq":0.278},{"pos":2,"base":"T","freq":0.265},{"pos":3,"base":"T","freq":0.265},{"pos":4,"base":"T","freq":0.275},{"pos":5,"base":"T","freq":0.265},{"pos":6,"base":"T","freq":0.278},{"pos":7,"base":"T","freq":0.27},{"pos":8,"base":"T","freq":0.278},{"pos":9,"base":"T","freq":0.282},{"pos":10,"base":"T","freq":0.263},
{"pos":-10,"base":"G","freq":0.228},{"pos":-9,"base":"G","freq":0.212},{"pos":-8,"base":"G","freq":0.21},{"pos":-7,"base":"G","freq":0.215},{"pos":-6,"base":"G","freq":0.218},{"pos":-5,"base":"G","freq":0.23},{"pos":-4,"base":"G","freq":0.228},{"pos":-3,"base":"G","freq":0.223},{"pos":-2,"base":"G","freq":0.238},{"pos":-1,"base":"G","freq":0.225},{"pos":0,"base":"G","freq":0.24},{"pos":1,"base":"G","freq":0.227},{"pos":2,"base":"G","freq":0.233},{"pos":3,"base":"G","freq":0.235},{"pos":4,"base":"G","freq":0.232},{"pos":5,"base":"G","freq":0.235},{"pos":6,"base":"G","freq":0.228},{"pos":7,"base":"G","freq":0.225},{"pos":8,"base":"G","freq":0.232},{"pos":9,"base":"G","freq":0.223},{"pos":10,"base":"G","freq":0.23},
{"pos":-10,"base":"C","freq":0.225},{"pos":-9,"base":"C","freq":0.208},{"pos":-8,"base":"C","freq":0.23},{"pos":-7,"base":"C","freq":0.227},{"pos":-6,"base":"C","freq":0.22},{"pos":-5,"base":"C","freq":0.235},{"pos":-4,"base":"C","freq":0.228},{"pos":-3,"base":"C","freq":0.212},{"pos":-2,"base":"C","freq":0.212},{"pos":-1,"base":"C","freq":0.235},{"pos":0,"base":"C","freq":0.238},{"pos":1,"base":"C","freq":0.245},{"pos":2,"base":"C","freq":0.208},{"pos":3,"base":"C","freq":0.225},{"pos":4,"base":"C","freq":0.212},{"pos":5,"base":"C","freq":0.228},{"pos":6,"base":"C","freq":0.217},{"pos":7,"base":"C","freq":0.228},{"pos":8,"base":"C","freq":0.22},{"pos":9,"base":"C","freq":0.225},{"pos":10,"base":"C","freq":0.24},
{"pos":-10,"base":"A","freq":0.275},{"pos":-9,"base":"A","freq":0.292},{"pos":-8,"base":"A","freq":0.288},{"pos":-7,"base":"A","freq":0.278},{"pos":-6,"base":"A","freq":0.29},{"pos":-5,"base":"A","freq":0.268},{"pos":-4,"base":"A","freq":0.27},{"pos":-3,"base":"A","freq":0.288},{"pos":-2,"base":"A","freq":0.28},{"pos":-1,"base":"A","freq":0.245},{"pos":0,"base":"A","freq":0.25},{"pos":1,"base":"A","freq":0.252},{"pos":2,"base":"A","freq":0.292},{"pos":3,"base":"A","freq":0.277},{"pos":4,"base":"A","freq":0.278},{"pos":5,"base":"A","freq":0.27},{"pos":6,"base":"A","freq":0.276},{"pos":7,"base":"A","freq":0.275},{"pos":8,"base":"A","freq":0.27},{"pos":9,"base":"A","freq":0.27},{"pos":10,"base":"A","freq":0.268}
]
},
"spacing": 18,
"vconcat": [
{"title": {"text": "Mezmaiskaya 2 Neandertal DNA", "subtitle": "fragments: 529", "offset": 4}, "spacing": 10, "hconcat": [
 {"width": 333, "height": 169, "data": {"name": "p1L"}, "mark": {"type": "line", "clip": true},
  "encoding": {"x": {"field": "pos", "type": "quantitative", "scale": {"domain": [-10, 10], "nice": false}, "axis": {"values": [-10, -5, 0, 5, 10], "labelExpr": "'' + datum.value", "title": "position along DNA fragment 5’ end"}},
   "y": {"field": "freq", "type": "quantitative", "scale": {"domain": [0.1, 0.45], "nice": false, "zero": false}, "axis": {"values": [0.1, 0.15, 0.2, 0.25, 0.3, 0.35, 0.4, 0.45], "format": ".2f", "title": "base frequency"}},
   "color": {"field": "base", "type": "nominal", "scale": {"domain": ["T", "G", "C", "A"], "range": ["#ef6a6a", "#4a4a4a", "#6b6bef", "#6cdc6c"]}, "legend": null}}},
 {"width": 76, "height": 169, "data": {"name": "legend"}, "view": {"stroke": null},
  "encoding": {"y": {"field": "base", "type": "nominal", "sort": ["T", "G", "C", "A"], "scale": {"type": "point", "padding": 0, "range": [64, 106]}, "axis": null}},
  "layer": [
   {"mark": {"type": "text", "fontSize": 13, "color": "#333", "dx": -21}, "encoding": {"text": {"field": "base"}}},
   {"mark": {"type": "tick", "orient": "horizontal", "thickness": 1.2, "xOffset": 11, "opacity": 0.85}, "encoding": {"size": {"value": 40}, "color": {"field": "base", "type": "nominal", "scale": {"domain": ["T", "G", "C", "A"], "range": ["#ef6a6a", "#4a4a4a", "#6b6bef", "#6cdc6c"]}, "legend": null}}}
  ]},
 {"width": 335, "height": 169, "data": {"name": "p1R"}, "mark": {"type": "line", "clip": true},
  "encoding": {"x": {"field": "pos", "type": "quantitative", "scale": {"domain": [-10, 10], "nice": false}, "axis": {"values": [-10, -5, 0, 5, 10], "labelExpr": "'' + datum.value", "title": "position along DNA fragment 3’ end"}},
   "y": {"field": "freq", "type": "quantitative", "scale": {"domain": [0.1, 0.45], "nice": false, "zero": false}, "axis": {"orient": "right", "labelPadding": 7, "values": [0.1, 0.15, 0.2, 0.25, 0.3, 0.35, 0.4, 0.45], "format": ".2f", "title": null}},
   "color": {"field": "base", "type": "nominal", "scale": {"domain": ["T", "G", "C", "A"], "range": ["#ef6a6a", "#4a4a4a", "#6b6bef", "#6cdc6c"]}, "legend": null}}}
]},
{"title": {"text": "Feldhofer 2 Neandertal DNA", "subtitle": "fragments: 403", "offset": 8}, "spacing": 10, "hconcat": [
 {"width": 333, "height": 169, "data": {"name": "p2L"}, "mark": {"type": "line", "clip": true},
  "encoding": {"x": {"field": "pos", "type": "quantitative", "scale": {"domain": [-10, 10], "nice": false}, "axis": {"values": [-10, -5, 0, 5, 10], "labelExpr": "'' + datum.value", "title": "position along DNA fragment 5’ end"}},
   "y": {"field": "freq", "type": "quantitative", "scale": {"domain": [0.1, 0.45], "nice": false, "zero": false}, "axis": {"values": [0.1, 0.15, 0.2, 0.25, 0.3, 0.35, 0.4, 0.45], "format": ".2f", "title": "base frequency"}},
   "color": {"field": "base", "type": "nominal", "scale": {"domain": ["T", "G", "C", "A"], "range": ["#ef6a6a", "#4a4a4a", "#6b6bef", "#6cdc6c"]}, "legend": null}}},
 {"width": 76, "height": 169, "data": {"name": "legend"}, "view": {"stroke": null},
  "encoding": {"y": {"field": "base", "type": "nominal", "sort": ["T", "G", "C", "A"], "scale": {"type": "point", "padding": 0, "range": [63, 105]}, "axis": null}},
  "layer": [
   {"mark": {"type": "text", "fontSize": 13, "color": "#333", "dx": -21}, "encoding": {"text": {"field": "base"}}},
   {"mark": {"type": "tick", "orient": "horizontal", "thickness": 1.2, "xOffset": 11, "opacity": 0.85}, "encoding": {"size": {"value": 40}, "color": {"field": "base", "type": "nominal", "scale": {"domain": ["T", "G", "C", "A"], "range": ["#ef6a6a", "#4a4a4a", "#6b6bef", "#6cdc6c"]}, "legend": null}}}
  ]},
 {"width": 335, "height": 169, "data": {"name": "p2R"}, "mark": {"type": "line", "clip": true},
  "encoding": {"x": {"field": "pos", "type": "quantitative", "scale": {"domain": [-10, 10], "nice": false}, "axis": {"values": [-10, -5, 0, 5, 10], "labelExpr": "'' + datum.value", "title": "position along DNA fragment 3’ end"}},
   "y": {"field": "freq", "type": "quantitative", "scale": {"domain": [0.1, 0.45], "nice": false, "zero": false}, "axis": {"orient": "right", "labelPadding": 7, "values": [0.1, 0.15, 0.2, 0.25, 0.3, 0.35, 0.4, 0.45], "format": ".2f", "title": null}},
   "color": {"field": "base", "type": "nominal", "scale": {"domain": ["T", "G", "C", "A"], "range": ["#ef6a6a", "#4a4a4a", "#6b6bef", "#6cdc6c"]}, "legend": null}}}
]},
{"title": {"text": "Mezmaiskaya 2 contamination", "subtitle": "fragments: 534", "offset": 9}, "spacing": 10, "hconcat": [
 {"width": 333, "height": 169, "data": {"name": "p3L"}, "mark": {"type": "line", "clip": true},
  "encoding": {"x": {"field": "pos", "type": "quantitative", "scale": {"domain": [-10, 10], "nice": false}, "axis": {"values": [-10, -5, 0, 5, 10], "labelExpr": "'' + datum.value", "title": "position along DNA fragment 5’ end"}},
   "y": {"field": "freq", "type": "quantitative", "scale": {"domain": [0.1, 0.45], "nice": false, "zero": false}, "axis": {"values": [0.1, 0.15, 0.2, 0.25, 0.3, 0.35, 0.4, 0.45], "format": ".2f", "title": "base frequency"}},
   "color": {"field": "base", "type": "nominal", "scale": {"domain": ["T", "G", "C", "A"], "range": ["#ef6a6a", "#4a4a4a", "#6b6bef", "#6cdc6c"]}, "legend": null}}},
 {"width": 76, "height": 169, "data": {"name": "legend"}, "view": {"stroke": null},
  "encoding": {"y": {"field": "base", "type": "nominal", "sort": ["T", "G", "C", "A"], "scale": {"type": "point", "padding": 0, "range": [61, 103]}, "axis": null}},
  "layer": [
   {"mark": {"type": "text", "fontSize": 13, "color": "#333", "dx": -21}, "encoding": {"text": {"field": "base"}}},
   {"mark": {"type": "tick", "orient": "horizontal", "thickness": 1.2, "xOffset": 11, "opacity": 0.85}, "encoding": {"size": {"value": 40}, "color": {"field": "base", "type": "nominal", "scale": {"domain": ["T", "G", "C", "A"], "range": ["#ef6a6a", "#4a4a4a", "#6b6bef", "#6cdc6c"]}, "legend": null}}}
  ]},
 {"width": 335, "height": 169, "data": {"name": "p3R"}, "mark": {"type": "line", "clip": true},
  "encoding": {"x": {"field": "pos", "type": "quantitative", "scale": {"domain": [-10, 10], "nice": false}, "axis": {"values": [-10, -5, 0, 5, 10], "labelExpr": "'' + datum.value", "title": "position along DNA fragment 3’ end"}},
   "y": {"field": "freq", "type": "quantitative", "scale": {"domain": [0.1, 0.45], "nice": false, "zero": false}, "axis": {"orient": "right", "labelPadding": 7, "values": [0.1, 0.15, 0.2, 0.25, 0.3, 0.35, 0.4, 0.45], "format": ".2f", "title": null}},
   "color": {"field": "base", "type": "nominal", "scale": {"domain": ["T", "G", "C", "A"], "range": ["#ef6a6a", "#4a4a4a", "#6b6bef", "#6cdc6c"]}, "legend": null}}}
]},
{"title": {"text": "Feldhofer 2 contamination", "subtitle": "fragments: 1,492", "offset": 8}, "spacing": 10, "hconcat": [
 {"width": 333, "height": 169, "data": {"name": "p4L"}, "mark": {"type": "line", "clip": true},
  "encoding": {"x": {"field": "pos", "type": "quantitative", "scale": {"domain": [-10, 10], "nice": false}, "axis": {"values": [-10, -5, 0, 5, 10], "labelExpr": "'' + datum.value", "title": "position along DNA fragment 5’ end"}},
   "y": {"field": "freq", "type": "quantitative", "scale": {"domain": [0.1, 0.45], "nice": false, "zero": false}, "axis": {"values": [0.1, 0.15, 0.2, 0.25, 0.3, 0.35, 0.4, 0.45], "format": ".2f", "title": "base frequency"}},
   "color": {"field": "base", "type": "nominal", "scale": {"domain": ["T", "G", "C", "A"], "range": ["#ef6a6a", "#4a4a4a", "#6b6bef", "#6cdc6c"]}, "legend": null}}},
 {"width": 76, "height": 169, "data": {"name": "legend"}, "view": {"stroke": null},
  "encoding": {"y": {"field": "base", "type": "nominal", "sort": ["T", "G", "C", "A"], "scale": {"type": "point", "padding": 0, "range": [67, 109]}, "axis": null}},
  "layer": [
   {"mark": {"type": "text", "fontSize": 13, "color": "#333", "dx": -21}, "encoding": {"text": {"field": "base"}}},
   {"mark": {"type": "tick", "orient": "horizontal", "thickness": 1.2, "xOffset": 11, "opacity": 0.85}, "encoding": {"size": {"value": 40}, "color": {"field": "base", "type": "nominal", "scale": {"domain": ["T", "G", "C", "A"], "range": ["#ef6a6a", "#4a4a4a", "#6b6bef", "#6cdc6c"]}, "legend": null}}}
  ]},
 {"width": 335, "height": 169, "data": {"name": "p4R"}, "mark": {"type": "line", "clip": true},
  "encoding": {"x": {"field": "pos", "type": "quantitative", "scale": {"domain": [-10, 10], "nice": false}, "axis": {"values": [-10, -5, 0, 5, 10], "labelExpr": "'' + datum.value", "title": "position along DNA fragment 3’ end"}},
   "y": {"field": "freq", "type": "quantitative", "scale": {"domain": [0.1, 0.45], "nice": false, "zero": false}, "axis": {"orient": "right", "labelPadding": 7, "values": [0.1, 0.15, 0.2, 0.25, 0.3, 0.35, 0.4, 0.45], "format": ".2f", "title": null}},
   "color": {"field": "base", "type": "nominal", "scale": {"domain": ["T", "G", "C", "A"], "range": ["#ef6a6a", "#4a4a4a", "#6b6bef", "#6cdc6c"]}, "legend": null}}}
]},
{"title": {"text": "Teshik Tash contamination", "subtitle": "fragments: 3,274", "offset": 0}, "spacing": 10, "hconcat": [
 {"width": 333, "height": 168, "data": {"name": "p5L"}, "mark": {"type": "line", "clip": true},
  "encoding": {"x": {"field": "pos", "type": "quantitative", "scale": {"domain": [-10, 10], "nice": false}, "axis": {"values": [-10, -5, 0, 5, 10], "labelExpr": "'' + datum.value", "title": "position along DNA fragment"}},
   "y": {"field": "freq", "type": "quantitative", "scale": {"domain": [0.1, 0.45], "nice": false, "zero": false}, "axis": {"values": [0.1, 0.15, 0.2, 0.25, 0.3, 0.35, 0.4, 0.45], "format": ".2f", "title": "base frequency"}},
   "color": {"field": "base", "type": "nominal", "scale": {"domain": ["T", "G", "C", "A"], "range": ["#ef6a6a", "#4a4a4a", "#6b6bef", "#6cdc6c"]}, "legend": null}}},
 {"width": 76, "height": 168, "data": {"name": "legend"}, "view": {"stroke": null},
  "encoding": {"y": {"field": "base", "type": "nominal", "sort": ["T", "G", "C", "A"], "scale": {"type": "point", "padding": 0, "range": [73, 115]}, "axis": null}},
  "layer": [
   {"mark": {"type": "text", "fontSize": 13, "color": "#333", "dx": -21}, "encoding": {"text": {"field": "base"}}},
   {"mark": {"type": "tick", "orient": "horizontal", "thickness": 1.2, "xOffset": 11, "opacity": 0.85}, "encoding": {"size": {"value": 40}, "color": {"field": "base", "type": "nominal", "scale": {"domain": ["T", "G", "C", "A"], "range": ["#ef6a6a", "#4a4a4a", "#6b6bef", "#6cdc6c"]}, "legend": null}}}
  ]},
 {"width": 335, "height": 168, "data": {"name": "p5R"}, "mark": {"type": "line", "clip": true},
  "encoding": {"x": {"field": "pos", "type": "quantitative", "scale": {"domain": [-10, 10], "nice": false}, "axis": {"values": [-10, -5, 0, 5, 10], "labelExpr": "'' + datum.value", "title": "position along DNA fragment"}},
   "y": {"field": "freq", "type": "quantitative", "scale": {"domain": [0.1, 0.45], "nice": false, "zero": false}, "axis": {"orient": "right", "labelPadding": 7, "values": [0.1, 0.15, 0.2, 0.25, 0.3, 0.35, 0.4, 0.45], "format": ".2f", "title": null}},
   "color": {"field": "base", "type": "nominal", "scale": {"domain": ["T", "G", "C", "A"], "range": ["#ef6a6a", "#4a4a4a", "#6b6bef", "#6cdc6c"]}, "legend": null}}}
]}
],
"config": {
 "font": "Lato",
 "view": {"stroke": "#9a9a9a", "strokeWidth": 1},
 "line": {"strokeWidth": 1},
 "axis": {"grid": true, "gridColor": "#dddddd", "domain": false, "ticks": false, "labelFlush": false, "labelFontSize": 13, "labelColor": "#333333", "labelPadding": 7, "titleFontSize": 13.5, "titleFontWeight": "normal", "titleColor": "#222222", "titlePadding": 7},
 "axisY": {"labelPadding": 6, "titlePadding": 19},
 "title": {"fontSize": 18, "fontWeight": "normal", "color": "#222222", "subtitleFontSize": 10.5, "subtitleColor": "#222222", "subtitlePadding": 3, "anchor": "middle", "dx": 20}
}
}
